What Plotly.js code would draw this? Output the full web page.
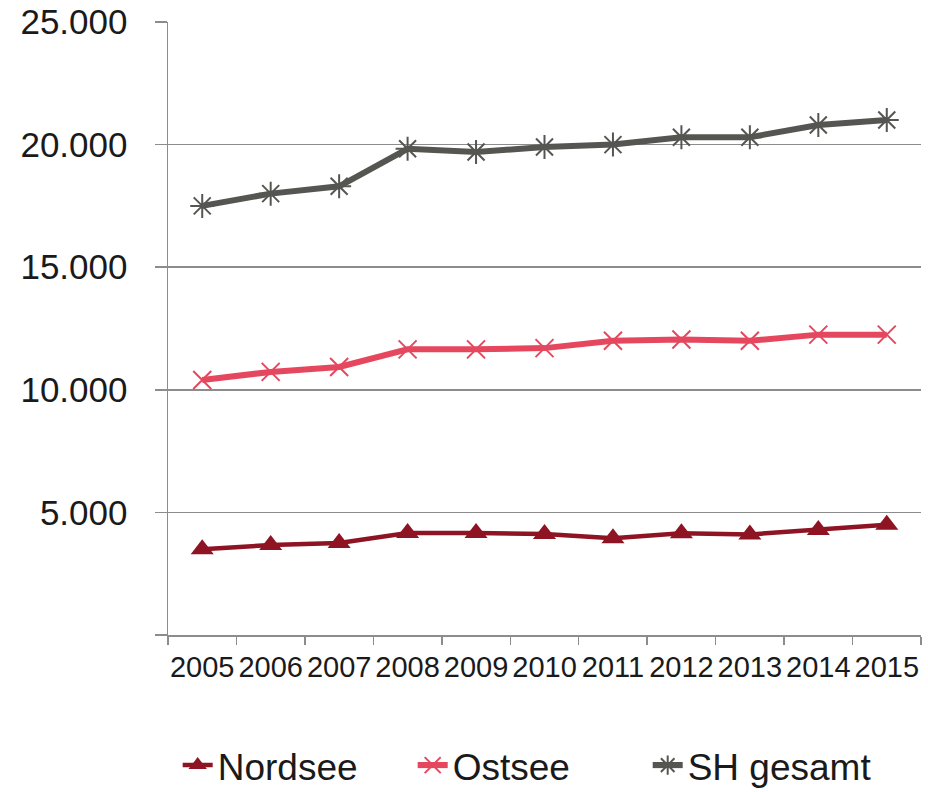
<!DOCTYPE html>
<html>
<head>
<meta charset="utf-8">
<script src="https://cdn.plot.ly/plotly-3.0.1.min.js"></script>
<style>html,body{margin:0;padding:0;background:#fff;}#chart{width:928px;height:792px;}</style>
</head>
<body>
<div id="chart"></div>
<script>
var years = ['2005','2006','2007','2008','2009','2010','2011','2012','2013','2014','2015'];
var nordsee = [3500, 3670, 3750, 4160, 4160, 4120, 3950, 4150, 4100, 4280, 4500];
var ostsee = [10400, 10730, 10930, 11650, 11650, 11700, 12000, 12050, 12000, 12250, 12250];
var shGesamt = [17500, 18000, 18300, 19830, 19700, 19900, 20000, 20300, 20300, 20800, 21000];
var seriesNames = ['Nordsee', 'Ostsee', 'SH gesamt'];
var yTickVals = [0, 5000, 10000, 15000, 20000, 25000];
var yTickText = ['', '5.000', '10.000', '15.000', '20.000', '25.000'];

var traces = [
  {x: years, y: nordsee, name: seriesNames[0], type: 'scatter', mode: 'lines+markers',
   line: {color: '#8e1424', width: 4.5},
   marker: {symbol: 'triangle-up', size: 20, color: '#8e1424'}},
  {x: years, y: ostsee, name: seriesNames[1], type: 'scatter', mode: 'lines+markers',
   line: {color: '#e5485e', width: 6},
   marker: {symbol: 'x-thin-open', size: 18, color: '#e5485e', line: {color: '#e5485e', width: 2}}},
  {x: years, y: shGesamt, name: seriesNames[2], type: 'scatter', mode: 'lines+markers',
   line: {color: '#555651', width: 6},
   marker: {symbol: 'asterisk-open', size: 20, color: '#555651', line: {color: '#555651', width: 2}}}
];

var layout = {
  width: 928, height: 792,
  margin: {l: 168, r: 7, t: 22, b: 157, pad: 0, autoexpand: false},
  paper_bgcolor: '#fff', plot_bgcolor: '#fff',
  font: {family: 'Liberation Sans, Arial, sans-serif', color: '#1a1a1a'},
  showlegend: true,
  legend: {orientation: 'h', x: 0.481, xanchor: 'center', xref: 'paper', y: -0.213, yanchor: 'middle', yref: 'paper',
           entrywidth: 190, entrywidthmode: 'pixels',
           font: {size: 37, color: '#1a1a1a'}, tracegroupgap: 0, bgcolor: 'rgba(0,0,0,0)'},
  xaxis: {type: 'category', tickson: 'boundaries', ticks: 'outside', ticklen: 8, tickcolor: '#8c8c8c', tickwidth: 1.5,
          showline: true, linecolor: '#8c8c8c', linewidth: 1.5, showgrid: false, zeroline: false, tickangle: 0,
          tickfont: {size: 29, color: '#1a1a1a'}, ticklabelstandoff: 6, range: [-0.5, 10.5], fixedrange: true},
  yaxis: {range: [0, 25000], tickvals: yTickVals, ticktext: yTickText, ticks: 'outside', ticklen: 12,
          tickcolor: '#8c8c8c', tickwidth: 1.5, showline: true, linecolor: '#8c8c8c', linewidth: 1.5,
          showgrid: true, gridcolor: '#8c8c8c', gridwidth: 1.5, zeroline: false,
          tickfont: {size: 35, color: '#1a1a1a'}, ticklabelstandoff: 20, fixedrange: true}
};

Plotly.newPlot('chart', traces, layout, {displayModeBar: false, staticPlot: true});
</script>
</body>
</html>
